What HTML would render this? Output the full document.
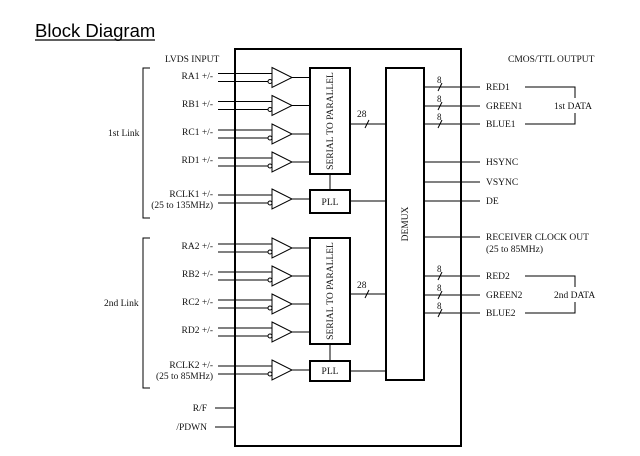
<!DOCTYPE html>
<html><head><style>
html,body{margin:0;padding:0;background:#fff;}
svg{display:block;}
text{font-family:"Liberation Serif",serif;font-size:9.5px;fill:#111;}
</style></head><body>
<svg width="640" height="456" viewBox="0 0 640 456" xmlns="http://www.w3.org/2000/svg">
<text x="35" y="37" style="font-family:'Liberation Sans',sans-serif;font-size:18.5px;fill:#000">Block Diagram</text>
<line x1="35" y1="40" x2="155" y2="40" stroke="#000" stroke-width="1.3"/>
<text x="165" y="62">LVDS INPUT</text>
<text x="508" y="62">CMOS/TTL OUTPUT</text>
<g fill="none" stroke="#000" stroke-width="2">
<rect x="235" y="49" width="226" height="397"/>
<rect x="310" y="68" width="40" height="106"/>
<rect x="310" y="190" width="40" height="23"/>
<rect x="310" y="238" width="40" height="106"/>
<rect x="310" y="361" width="40" height="20"/>
<rect x="386" y="68" width="38" height="312"/>
</g>
<g stroke="#000" stroke-width="1" fill="none">
<path d="M150 68 H143 V218 H150"/>
<path d="M150 238 H143 V388 H150"/>
<line x1="330" y1="174" x2="330" y2="190"/>
<line x1="330" y1="344" x2="330" y2="361"/>
<line x1="350" y1="201" x2="386" y2="201"/>
<line x1="350" y1="371" x2="386" y2="371"/>
<line x1="350" y1="124" x2="386" y2="124"/><line x1="365" y1="128" x2="369" y2="120"/>
<line x1="350" y1="294" x2="386" y2="294"/><line x1="365" y1="298" x2="369" y2="290"/>
<line x1="424" y1="87" x2="480" y2="87"/><line x1="438" y1="91" x2="442" y2="83"/>
<line x1="424" y1="106" x2="480" y2="106"/><line x1="438" y1="110" x2="442" y2="102"/>
<line x1="424" y1="124" x2="480" y2="124"/><line x1="438" y1="128" x2="442" y2="120"/>
<line x1="424" y1="162" x2="480" y2="162"/>
<line x1="424" y1="182" x2="480" y2="182"/>
<line x1="424" y1="201" x2="480" y2="201"/>
<line x1="424" y1="237" x2="480" y2="237"/>
<line x1="424" y1="276" x2="480" y2="276"/><line x1="438" y1="280" x2="442" y2="272"/>
<line x1="424" y1="295" x2="480" y2="295"/><line x1="438" y1="299" x2="442" y2="291"/>
<line x1="424" y1="313" x2="480" y2="313"/><line x1="438" y1="317" x2="442" y2="309"/>
<path d="M525 87 H575 V98 M575 113 V124 H525"/>
<path d="M525 276 H575 V287 M575 302 V313 H525"/>
<line x1="215" y1="408" x2="235" y2="408"/>
<line x1="215" y1="427" x2="235" y2="427"/>
</g>
<g>
<text x="437" y="83" style="font-size:9px">8</text><text x="437" y="102" style="font-size:9px">8</text><text x="437" y="120" style="font-size:9px">8</text>
<text x="437" y="272" style="font-size:9px">8</text><text x="437" y="291" style="font-size:9px">8</text><text x="437" y="309" style="font-size:9px">8</text>
<text x="357" y="117">28</text><text x="357" y="288">28</text>
</g>
<text x="486" y="90">RED1</text>
<text x="486" y="109">GREEN1</text>
<text x="486" y="127">BLUE1</text>
<text x="486" y="165">HSYNC</text>
<text x="486" y="185">VSYNC</text>
<text x="486" y="204">DE</text>
<text x="486" y="240">RECEIVER CLOCK OUT</text>
<text x="486" y="252">(25 to 85MHz)</text>
<text x="486" y="279">RED2</text>
<text x="486" y="298">GREEN2</text>
<text x="486" y="316">BLUE2</text>
<text x="554" y="109">1st DATA</text>
<text x="554" y="298">2nd DATA</text>
<text x="108" y="136">1st Link</text>
<text x="104" y="306">2nd Link</text>
<text x="207" y="411" text-anchor="end">R/F</text>
<text x="207" y="430" text-anchor="end">/PDWN</text>
<text x="333" y="121" text-anchor="middle" transform="rotate(-90 333 121)">SERIAL TO PARALLEL</text>
<text x="333" y="291" text-anchor="middle" transform="rotate(-90 333 291)">SERIAL TO PARALLEL</text>
<text x="330" y="205" text-anchor="middle">PLL</text>
<text x="330" y="374" text-anchor="middle">PLL</text>
<text x="408" y="224" text-anchor="middle" transform="rotate(-90 408 224)">DEMUX</text>
<defs>
<g id="buf" stroke="#000" stroke-width="1" fill="#fff">
<line x1="218" y1="-4" x2="272" y2="-4"/>
<line x1="218" y1="4" x2="268" y2="4"/>
<polygon points="272,-10 292,0 272,10"/>
<circle cx="270" cy="4" r="2"/>
<line x1="292" y1="0" x2="310" y2="0"/>
</g>
</defs>
<use href="#buf" y="77.5"/><use href="#buf" y="105.5"/><use href="#buf" y="134"/><use href="#buf" y="162"/><use href="#buf" y="199"/>
<use href="#buf" y="248"/><use href="#buf" y="276"/><use href="#buf" y="304"/><use href="#buf" y="332"/><use href="#buf" y="370"/>
<g text-anchor="end">
<text x="213" y="79">RA1 +/-</text>
<text x="213" y="107">RB1 +/-</text>
<text x="213" y="135">RC1 +/-</text>
<text x="213" y="163">RD1 +/-</text>
<text x="213" y="197">RCLK1 +/-</text>
<text x="213" y="208">(25 to 135MHz)</text>
<text x="213" y="249">RA2 +/-</text>
<text x="213" y="277">RB2 +/-</text>
<text x="213" y="305">RC2 +/-</text>
<text x="213" y="333">RD2 +/-</text>
<text x="213" y="368">RCLK2 +/-</text>
<text x="213" y="379">(25 to 85MHz)</text>
</g>
</svg>
</body></html>
